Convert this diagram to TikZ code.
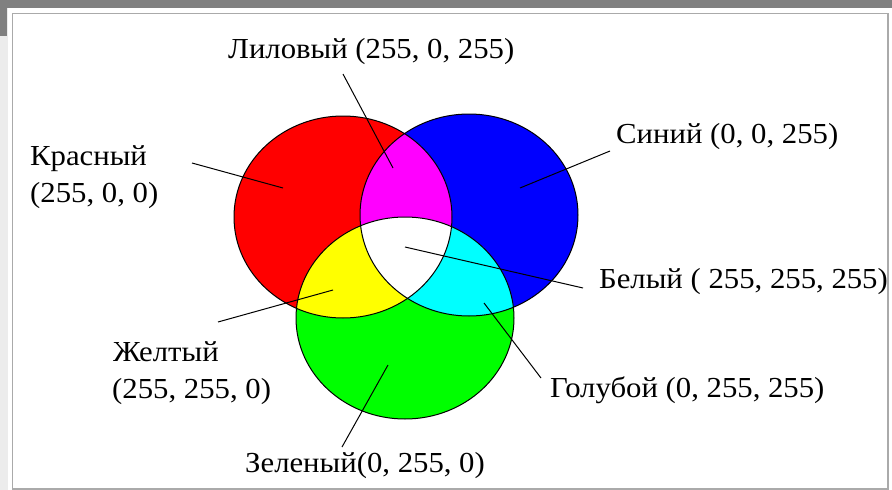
\documentclass[tikz,border=0pt]{standalone}
\usepackage{fontspec}
\setmainfont[FakeStretch=1.06]{Liberation Serif}
\definecolor{bargray}{RGB}{128,128,128}
\definecolor{stripgray}{RGB}{236,236,236}
\definecolor{framegray}{RGB}{170,170,170}
\definecolor{cR}{RGB}{255,0,0}
\definecolor{cB}{RGB}{0,0,255}
\definecolor{cG}{RGB}{0,255,0}
\definecolor{cM}{RGB}{255,0,255}
\definecolor{cY}{RGB}{255,255,0}
\definecolor{cC}{RGB}{0,255,255}
\begin{document}
\begin{tikzpicture}[x=1pt,y=-1pt,
  lbl/.style={inner sep=0pt, anchor=base west, font=\fontsize{29}{35}\selectfont},
  leader/.style={line width=1pt, draw=black},
  ring/.style={line width=1pt, draw=black}]
\useasboundingbox (0,0) rectangle (892,490);
% frame
\fill[white] (0,0) rectangle (892,490);
\fill[stripgray] (0,0) rectangle (8,490);
\fill[bargray] (0,0) rectangle (892,8);
\fill[bargray] (0,0) rectangle (7,36);
\draw[framegray, line width=1.5pt] (12.5,13.5) rectangle (888,489);
% colour fills
\fill[cR] (343,217) ellipse [x radius=109pt, y radius=101pt];
\fill[cB] (469,215) ellipse [x radius=109pt, y radius=101pt];
\fill[cG] (405,318) ellipse [x radius=109pt, y radius=101pt];
\begin{scope}
  \clip (343,217) ellipse [x radius=109pt, y radius=101pt];
  \fill[cM] (469,215) ellipse [x radius=109pt, y radius=101pt];
  \fill[cY] (405,318) ellipse [x radius=109pt, y radius=101pt];
\end{scope}
\begin{scope}
  \clip (469,215) ellipse [x radius=109pt, y radius=101pt];
  \fill[cC] (405,318) ellipse [x radius=109pt, y radius=101pt];
\end{scope}
\begin{scope}
  \clip (343,217) ellipse [x radius=109pt, y radius=101pt];
  \clip (469,215) ellipse [x radius=109pt, y radius=101pt];
  \fill[white] (405,318) ellipse [x radius=109pt, y radius=101pt];
\end{scope}
% outlines
\draw[ring] (343,217) ellipse [x radius=109pt, y radius=101pt];
\draw[ring] (469,215) ellipse [x radius=109pt, y radius=101pt];
\draw[ring] (405,318) ellipse [x radius=109pt, y radius=101pt];
% labels
\node[lbl] (lil) at (228,58) {Лиловый (255, 0, 255)};
\node[lbl] (kr1) at (30,165) {Красный};
\node[lbl] (kr2) at (30,202) {(255, 0, 0)};
\node[lbl] (sin) at (616,143) {Синий (0, 0, 255)};
\node[lbl] (bel) at (599,288) {Белый ( 255, 255, 255)};
\node[lbl] (zh1) at (113,361) {Желтый};
\node[lbl] (zh2) at (112,398) {(255, 255, 0)};
\node[lbl] (gol) at (550,397) {Голубой (0, 255, 255)};
\node[lbl] (zel) at (245,472) {Зеленый(0, 255, 0)};
% leader end points
\coordinate (lilA) at (343,74);   \coordinate (lilB) at (393,168);
\coordinate (krA) at (192,163);   \coordinate (krB) at (283,188);
\coordinate (sinA) at (610,151);  \coordinate (sinB) at (520,188);
\coordinate (belA) at (583,288);  \coordinate (belB) at (405,247);
\coordinate (zhA) at (218,322);   \coordinate (zhB) at (333,290);
\coordinate (golA) at (541,378);  \coordinate (golB) at (484,303);
\coordinate (zelA) at (342,447);  \coordinate (zelB) at (388,365);
\draw[leader] (lilA) -- (lilB);
\draw[leader] (krA) -- (krB);
\draw[leader] (sinA) -- (sinB);
\draw[leader] (belA) -- (belB);
\draw[leader] (zhA) -- (zhB);
\draw[leader] (golA) -- (golB);
\draw[leader] (zelA) -- (zelB);
\end{tikzpicture}
\end{document}
